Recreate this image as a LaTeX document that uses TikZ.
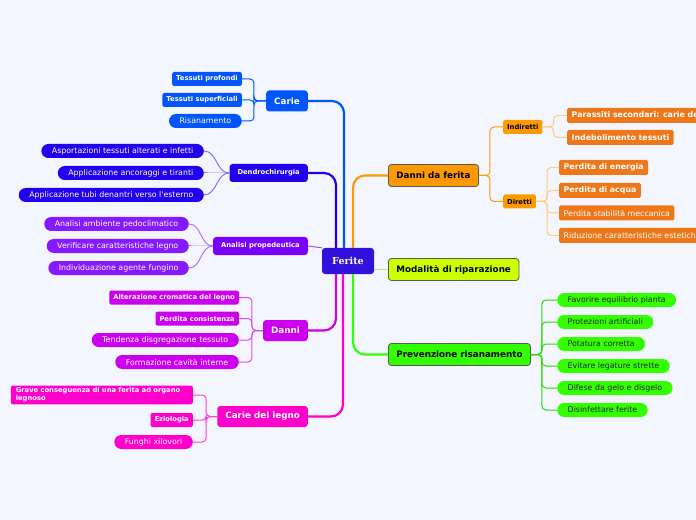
\documentclass[tikz,border=0pt]{standalone}
\usepackage{fontspec}
\newfontfamily\mapsans{DejaVu Sans}
\newfontfamily\mapserif{DejaVu Serif}
\definecolor{bgmap}{HTML}{F3F6FE}
\definecolor{cferite}{HTML}{3311DD}
\definecolor{ccarie}{HTML}{0055FF}
\definecolor{cdendro}{HTML}{2200EE}
\definecolor{canalisi}{HTML}{7700FF}
\definecolor{cdanni}{HTML}{CC00EE}
\definecolor{ccdl}{HTML}{FF00CC}
\definecolor{cdannifer}{HTML}{FF9900}
\definecolor{cleaforange}{HTML}{EE7719}
\definecolor{cmodal}{HTML}{CCFF00}
\definecolor{cprev}{HTML}{33FF00}
\begin{document}
\begin{tikzpicture}
[x=1bp,y=-1bp,
  rootnode/.style={fill=cferite,text=white,rounded corners=3bp,minimum height=26bp,
    minimum width=52bp,font=\mapserif\bfseries\fontsize{9.6}{11}\selectfont},
  mainnode/.style={draw=black!65,line width=0.8bp,rounded corners=3bp,minimum height=22bp,
    inner xsep=8bp,font=\mapsans\bfseries\fontsize{8.8}{10}\selectfont},
  leftnode/.style={text=white,rounded corners=3bp,minimum height=21bp,inner xsep=8bp,
    font=\mapsans\bfseries\fontsize{8.8}{10}\selectfont},
  smallnode/.style={text=white,rounded corners=3bp,minimum height=18bp,inner xsep=8bp,
    font=\mapsans\bfseries\fontsize{6.8}{8}\selectfont},
  boldleaf/.style={text=white,rounded corners=2bp,minimum height=14bp,inner xsep=4bp,
    inner ysep=2bp,align=left,font=\mapsans\bfseries\fontsize{6.8}{8}\selectfont},
  wideleaf/.style={boldleaf,text width=172bp,inner xsep=5bp},
  pillleaf/.style={text=white,rounded corners=7bp,minimum height=14bp,inner xsep=10.5bp,
    inner ysep=1bp,font=\mapsans\fontsize{7.9}{9}\selectfont},
  orangeleaf/.style={fill=cleaforange,text=white,rounded corners=1.5bp,minimum height=15bp,
    inner xsep=4.5bp,inner ysep=1bp,font=\mapsans\fontsize{7.9}{9}\selectfont},
  branch/.style={line width=2.2bp,rounded corners=12bp},
  twig/.style={line width=1bp,rounded corners=4bp}]
\useasboundingbox[fill=bgmap] (0,0) rectangle (696,520);
%% central and main nodes
\node[rootnode] (ferite) at (348,261) {Ferite};
\node[leftnode,fill=ccarie,anchor=east] (carie) at (308,101) {Carie};
\node[smallnode,fill=cdendro,anchor=east] (dendro) at (308,173) {Dendrochirurgia};
\node[smallnode,fill=canalisi,anchor=east] (analisi) at (308,246) {Analisi propedeutica};
\node[leftnode,fill=cdanni,anchor=east] (danni) at (308,330.5) {Danni};
\node[leftnode,fill=ccdl,anchor=east] (cdl) at (308,416.5) {Carie del legno};
\node[mainnode,fill=cdannifer,anchor=west] (dannifer) at (388,175.5) {Danni da ferita};
\node[mainnode,fill=cmodal,anchor=west] (modal) at (388,269.5) {Modalità di riparazione};
\node[mainnode,fill=cprev,anchor=west] (prev) at (388,354.5) {Prevenzione risanamento};
%% left leaves
\foreach \nm/\y/\sty/\txt in {tp/79/boldleaf/Tessuti profondi,
  ts/100/boldleaf/Tessuti superficiali, ris/121/pillleaf/Risanamento}
  \node[\sty,fill=ccarie,anchor=east] (\nm) at (242,\y) {\txt};
\foreach \nm/\y/\txt in {asp/151/Asportazioni tessuti alterati e infetti,
  anc/173/Applicazione ancoraggi e tiranti, tub/195/Applicazione tubi denantri verso l'esterno}
  \node[pillleaf,fill=cdendro,anchor=east] (\nm) at (204,\y) {\txt};
\foreach \nm/\y/\txt in {amb/224/Analisi ambiente pedoclimatico,
  ver/246/Verificare caratteristiche legno, ind/268/Individuazione agente fungino}
  \node[pillleaf,fill=canalisi!90!white,anchor=east] (\nm) at (189,\y) {\txt};
\foreach \nm/\y/\sty/\txt in {alt/297.5/boldleaf/Alterazione cromatica del legno,
  pcons/318.5/boldleaf/Perdita consistenza, tend/340/pillleaf/Tendenza disgregazione tessuto,
  form/362/pillleaf/Formazione cavità interne}
  \node[\sty,fill=cdanni,anchor=east] (\nm) at (239,\y) {\txt};
\foreach \nm/\y/\sty/\txt in {grave/395/wideleaf/{Grave conseguenza di una ferita ad organo\\legnoso},
  ezio/420/boldleaf/Eziologia, fung/442/pillleaf/Funghi xilovori}
  \node[\sty,fill=ccdl,anchor=east] (\nm) at (193,\y) {\txt};
%% right leaves
\node[boldleaf,fill=cdannifer,text=black,anchor=west] (indir) at (503,127) {Indiretti};
\node[boldleaf,fill=cdannifer,text=black,anchor=west] (dir) at (503,201.5) {Diretti};
\foreach \nm/\y/\wt/\txt in {paras/115.5/\bfseries/Parassiti secondari: carie del legno,
  indeb/137.5/\bfseries/Indebolimento tessuti}
  \node[orangeleaf,font=\mapsans\wt\fontsize{7.9}{9}\selectfont,anchor=west] (\nm) at (567,\y) {\txt};
\foreach \nm/\y/\wt/\txt in {pen/167.5/\bfseries/Perdita di energia,
  pacq/190.5/\bfseries/Perdita di acqua, pstab/213//Perdita stabilità meccanica,
  rid/235.5//Riduzione caratteristiche estetiche}
  \node[orangeleaf,font=\mapsans\wt\fontsize{7.9}{9}\selectfont,anchor=west] (\nm) at (559,\y) {\txt};
\foreach \nm/\y/\txt in {fav/300/Favorire equilibrio pianta, prot/322/Protezioni artificiali,
  pot/344/Potatura corretta, evit/366/Evitare legature strette,
  dif/388/Difese da gelo e disgelo, dis/410/Disinfettare ferite}
  \node[pillleaf,fill=cprev,text=black!85,anchor=west] (\nm) at (557,\y) {\txt};
%% main branches
\draw[branch,ccarie] ([xshift=-4bp]ferite.north) |- (carie.east);
\draw[branch,cdendro] ([xshift=-12bp]ferite.north) |- (dendro.east);
\draw[branch,cdannifer] ([xshift=5bp]ferite.north) |- (dannifer.west);
\draw[branch,cdanni] ([xshift=-12bp]ferite.south) |- (danni.east);
\draw[branch,ccdl] ([xshift=-5bp]ferite.south) |- (cdl.east);
\draw[branch,cprev] ([xshift=5bp]ferite.south) |- (prev.west);
\draw[twig,canalisi!70] (analisi.east) -- (ferite.north west);
\draw[twig,cmodal!80!black!60!white] (ferite.east |- modal.west) -- (modal.west);
%% twigs
\foreach \c in {tp,ts,ris}
  \draw[twig,ccarie] (carie.west) -- ++(-12bp,0) |- (\c.east);
\foreach \c in {asp,anc,tub}
  \draw[twig,cdendro!55] (dendro.west) to[out=180,in=0] (\c.east);
\foreach \c in {amb,ver,ind}
  \draw[twig,canalisi!55] (analisi.west) to[out=180,in=0] (\c.east);
\foreach \c in {alt,pcons,tend,form}
  \draw[twig,cdanni!70] (danni.west) -- ++(-11bp,0) |- (\c.east);
\foreach \c in {grave,ezio,fung}
  \draw[twig,ccdl!75] (cdl.west) -- ++(-11bp,0) |- (\c.east);
\foreach \c in {indir,dir}
  \draw[twig,cdannifer] (dannifer.east) -- ++(11bp,0) |- (\c.west);
\foreach \c in {paras,indeb}
  \draw[twig,cdannifer!50] (indir.east) -- ++(11bp,0) |- (\c.west);
\foreach \c in {pen,pacq,pstab,rid}
  \draw[twig,cdannifer!50] (dir.east) -- ++(11bp,0) |- (\c.west);
\foreach \c in {fav,prot,pot,evit,dif,dis}
  \draw[twig,cprev!85!black] (prev.east) -- ++(11bp,0) |- (\c.west);
\end{tikzpicture}
\end{document}
